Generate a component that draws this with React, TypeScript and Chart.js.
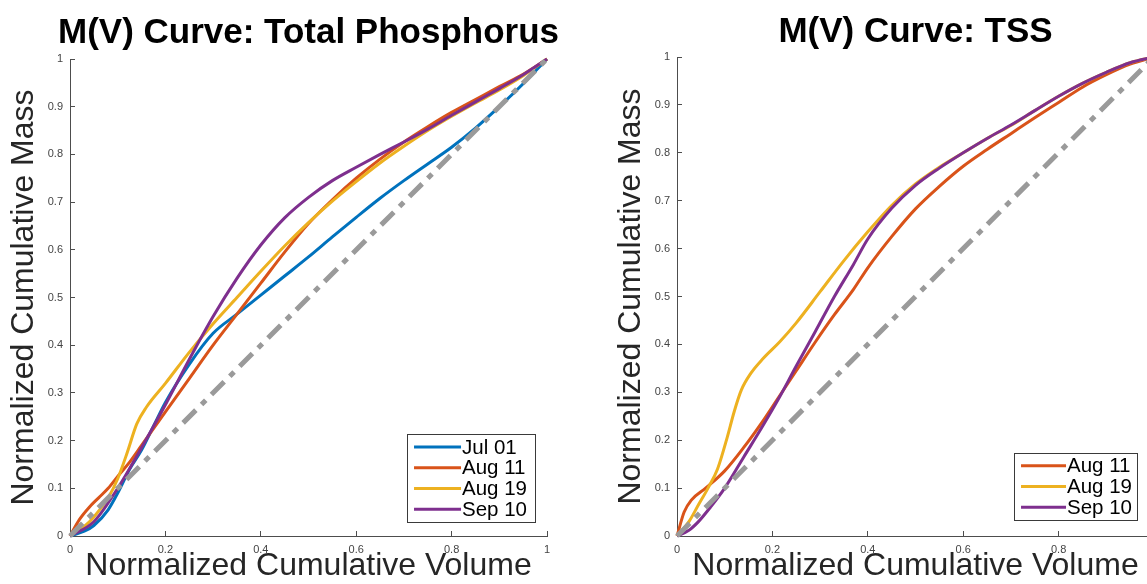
import React, { useEffect, useRef } from 'react';
import { Chart, registerables } from 'chart.js';

Chart.register(...registerables);

// ---------- data ----------
const xTickValues = [0, 0.2, 0.4, 0.6, 0.8, 1];
const xTickLabels = ['0', '0.2', '0.4', '0.6', '0.8', '1'];
const yTickValues = [0, 0.1, 0.2, 0.3, 0.4, 0.5, 0.6, 0.7, 0.8, 0.9, 1];
const yTickLabels = ['0', '0.1', '0.2', '0.3', '0.4', '0.5', '0.6', '0.7', '0.8', '0.9', '1'];

const diagX = [0, 1];
const diagY = [0, 1];

// Total Phosphorus
const tpJul01X = [0, 0.03, 0.05, 0.08, 0.1, 0.125, 0.15, 0.175, 0.2, 0.25, 0.3, 0.35, 0.4, 0.45, 0.5, 0.55, 0.6, 0.65, 0.7, 0.75, 0.8, 0.85, 0.9, 0.95, 1];
const tpJul01Y = [0, 0.01, 0.022, 0.055, 0.09, 0.14, 0.18, 0.23, 0.28, 0.36, 0.425, 0.465, 0.505, 0.545, 0.585, 0.627, 0.668, 0.708, 0.745, 0.78, 0.815, 0.855, 0.9, 0.948, 1];

const tpAug11X = [0, 0.02, 0.04, 0.06, 0.08, 0.1, 0.125, 0.15, 0.2, 0.25, 0.3, 0.35, 0.4, 0.45, 0.5, 0.55, 0.6, 0.65, 0.7, 0.75, 0.8, 0.85, 0.9, 0.95, 1];
const tpAug11Y = [0, 0.035, 0.06, 0.08, 0.1, 0.125, 0.155, 0.19, 0.26, 0.33, 0.4, 0.465, 0.53, 0.595, 0.655, 0.705, 0.75, 0.79, 0.826, 0.858, 0.888, 0.915, 0.942, 0.968, 1];

const tpAug19X = [0, 0.03, 0.05, 0.08, 0.1, 0.12, 0.14, 0.16, 0.2, 0.25, 0.3, 0.35, 0.4, 0.45, 0.5, 0.55, 0.6, 0.65, 0.7, 0.75, 0.8, 0.85, 0.9, 0.95, 1];
const tpAug19Y = [0, 0.02, 0.04, 0.08, 0.12, 0.175, 0.235, 0.27, 0.32, 0.385, 0.445, 0.5, 0.555, 0.608, 0.657, 0.702, 0.743, 0.782, 0.817, 0.85, 0.88, 0.908, 0.935, 0.965, 1];

const tpSep10X = [0, 0.05, 0.1, 0.15, 0.2, 0.25, 0.3, 0.35, 0.4, 0.45, 0.5, 0.55, 0.6, 0.65, 0.7, 0.75, 0.8, 0.85, 0.9, 0.95, 1];
const tpSep10Y = [0, 0.03, 0.1, 0.185, 0.275, 0.37, 0.46, 0.54, 0.61, 0.667, 0.71, 0.745, 0.773, 0.8, 0.826, 0.853, 0.882, 0.91, 0.938, 0.967, 1];

// TSS
const tssAug11X = [0, 0.015, 0.03, 0.06, 0.1, 0.14, 0.18, 0.21, 0.25, 0.29, 0.33, 0.37, 0.4, 0.45, 0.5, 0.55, 0.6, 0.65, 0.7, 0.75, 0.8, 0.85, 0.9, 0.95, 1];
const tssAug11Y = [0, 0.05, 0.075, 0.1, 0.136, 0.185, 0.24, 0.285, 0.345, 0.405, 0.462, 0.515, 0.56, 0.625, 0.683, 0.73, 0.772, 0.807, 0.84, 0.873, 0.905, 0.937, 0.963, 0.985, 1];

const tssAug19X = [0, 0.025, 0.045, 0.065, 0.085, 0.105, 0.12, 0.135, 0.155, 0.18, 0.215, 0.25, 0.3, 0.35, 0.4, 0.45, 0.5, 0.55, 0.6, 0.65, 0.7, 0.75, 0.8, 0.85, 0.9, 0.95, 1];
const tssAug19Y = [0, 0.03, 0.065, 0.1, 0.14, 0.205, 0.26, 0.305, 0.34, 0.37, 0.405, 0.445, 0.51, 0.575, 0.635, 0.69, 0.735, 0.77, 0.8, 0.83, 0.857, 0.888, 0.918, 0.945, 0.968, 0.988, 1];

const tssSep10X = [0, 0.025, 0.045, 0.07, 0.1, 0.14, 0.18, 0.215, 0.25, 0.29, 0.33, 0.37, 0.4, 0.45, 0.5, 0.55, 0.6, 0.65, 0.7, 0.75, 0.8, 0.85, 0.9, 0.95, 1];
const tssSep10Y = [0, 0.012, 0.03, 0.06, 0.1, 0.165, 0.23, 0.29, 0.355, 0.427, 0.5, 0.567, 0.62, 0.684, 0.732, 0.768, 0.8, 0.83, 0.858, 0.888, 0.918, 0.945, 0.968, 0.988, 1];

// ---------- styling ----------
const FONT = '"Liberation Sans", Arial, Helvetica, sans-serif';
const C_BLUE = '#0072BD';
const C_ORANGE = '#D95319';
const C_YELLOW = '#EDB120';
const C_PURPLE = '#7E2F8E';
const C_GRAY = '#9a9a9a';
const AXIS = '#4d4d4d';

const pts = (xs: number[], ys: number[]) => xs.map((x, i) => ({ x, y: ys[i] }));

const centerTitle = {
  id: 'centerTitle',
  afterDraw(chart: any, _args: any, opts: any) {
    if (!opts || !opts.text) return;
    const { ctx, chartArea } = chart;
    ctx.save();
    ctx.font = `bold 35px ${FONT}`;
    ctx.fillStyle = '#000';
    ctx.textAlign = 'center';
    ctx.textBaseline = 'alphabetic';
    ctx.fillText(opts.text, (chartArea.left + chartArea.right) / 2, opts.baseline);
    ctx.restore();
  },
};

const insetLegend = {
  id: 'insetLegend',
  afterDatasetsDraw(chart: any, _args: any, opts: any) {
    if (!opts || !opts.items) return;
    const { ctx, chartArea } = chart;
    const items = opts.items as { label: string; color: string }[];
    const fontSize = opts.fontSize || 20.5;
    ctx.save();
    ctx.font = `${fontSize}px ${FONT}`;
    let maxW = 0;
    items.forEach((it) => (maxW = Math.max(maxW, ctx.measureText(it.label).width)));
    const padL = 7, lineLen = opts.lineLen || 47, gap = 1, padR = opts.padR || 7;
    const rowH = opts.rowH || 20.7;
    const padV = 2.5;
    const w = padL + lineLen + gap + maxW + padR;
    const h = items.length * rowH + padV * 2;
    const right = chartArea.right - opts.marginR;
    const bottom = chartArea.bottom - opts.marginB;
    const left = right - w;
    const top = bottom - h;
    ctx.fillStyle = '#fff';
    ctx.fillRect(left, top, w, h);
    ctx.strokeStyle = '#3a3a3a';
    ctx.lineWidth = 1;
    ctx.strokeRect(Math.round(left) + 0.5, Math.round(top) + 0.5, Math.round(w), Math.round(h));
    items.forEach((it, i) => {
      const cy = top + padV + rowH * (i + 0.5);
      ctx.strokeStyle = it.color;
      ctx.lineWidth = 3;
      ctx.beginPath();
      ctx.moveTo(left + padL, cy);
      ctx.lineTo(left + padL + lineLen, cy);
      ctx.stroke();
      ctx.fillStyle = '#000';
      ctx.textBaseline = 'middle';
      ctx.textAlign = 'left';
      ctx.fillText(it.label, left + padL + lineLen + gap, cy + 1);
    });
    ctx.restore();
  },
};

type Series = { label: string; color: string; xs: number[]; ys: number[] };

function buildConfig(title: string, series: Series[], dims: { top: number; bottom: number; baseline: number }, legend: any) {
  const H = 584;
  const datasets: any[] = [
    {
      label: 'diag',
      data: pts(diagX, diagY),
      borderColor: C_GRAY,
      borderWidth: 5,
      borderDash: [18, 8, 6, 8],
      borderCapStyle: 'butt',
      pointRadius: 0,
      order: 0,
      clip: 8,
    },
  ];
  series.forEach((s, i) => {
    datasets.push({
      label: s.label,
      data: pts(s.xs, s.ys),
      borderColor: s.color,
      borderWidth: 3,
      pointRadius: 0,
      cubicInterpolationMode: 'monotone',
      order: series.length - i,
      clip: 8,
    });
  });
  return {
    type: 'line',
    data: { datasets },
    options: {
      responsive: false,
      animation: false,
      devicePixelRatio: 1,
      layout: { padding: { left: 0, right: 33, top: dims.top, bottom: 0 } },
      plugins: {
        legend: { display: false },
        tooltip: { enabled: false },
        title: { display: false },
        centerTitle: { text: title, baseline: dims.baseline },
        insetLegend: legend,
      },
      scales: {
        x: {
          type: 'linear',
          min: 0,
          max: 1,
          afterBuildTicks: (s: any) => {
            s.ticks = xTickValues.map((v) => ({ value: v }));
          },
          afterFit: (s: any) => {
            s.height = H - dims.bottom;
          },
          ticks: {
            callback: (_v: any, i: number) => xTickLabels[i],
            font: { family: FONT, size: 11 },
            color: '#444',
            padding: 12,
            maxRotation: 0,
            autoSkip: false,
          },
          grid: { drawOnChartArea: false, tickLength: -5, color: AXIS, lineWidth: 1 },
          border: { display: true, color: AXIS, width: 1 },
          title: {
            display: true,
            text: 'Normalized Cumulative Volume',
            color: '#262626',
            font: { family: FONT, size: 32, lineHeight: 1 },
            padding: { top: 0, bottom: 2 },
          },
        },
        y: {
          type: 'linear',
          min: 0,
          max: 1,
          afterBuildTicks: (s: any) => {
            s.ticks = yTickValues.map((v) => ({ value: v }));
          },
          afterFit: (s: any) => {
            s.width = 70;
          },
          ticks: {
            callback: (_v: any, i: number) => yTickLabels[i],
            font: { family: FONT, size: 11 },
            color: '#444',
            padding: 12,
            autoSkip: false,
          },
          grid: { drawOnChartArea: false, tickLength: -5, color: AXIS, lineWidth: 1 },
          border: { display: true, color: AXIS, width: 1 },
          title: {
            display: true,
            text: 'Normalized Cumulative Mass',
            color: '#262626',
            font: { family: FONT, size: 32, lineHeight: 1 },
            padding: { top: 8, bottom: 0 },
          },
        },
      },
    },
    plugins: [insetLegend, centerTitle],
  };
}

export default function App() {
  const leftRef = useRef<HTMLCanvasElement>(null);
  const rightRef = useRef<HTMLCanvasElement>(null);

  useEffect(() => {
    const tpSeries: Series[] = [
      { label: 'Jul 01', color: C_BLUE, xs: tpJul01X, ys: tpJul01Y },
      { label: 'Aug 11', color: C_ORANGE, xs: tpAug11X, ys: tpAug11Y },
      { label: 'Aug 19', color: C_YELLOW, xs: tpAug19X, ys: tpAug19Y },
      { label: 'Sep 10', color: C_PURPLE, xs: tpSep10X, ys: tpSep10Y },
    ];
    const tssSeries: Series[] = [
      { label: 'Aug 11', color: C_ORANGE, xs: tssAug11X, ys: tssAug11Y },
      { label: 'Aug 19', color: C_YELLOW, xs: tssAug19X, ys: tssAug19Y },
      { label: 'Sep 10', color: C_PURPLE, xs: tssSep10X, ys: tssSep10Y },
    ];
    const c1 = new Chart(
      leftRef.current as HTMLCanvasElement,
      buildConfig('M(V) Curve: Total Phosphorus', tpSeries, { top: 59, bottom: 536, baseline: 43 }, {
        items: tpSeries.map((s) => ({ label: s.label, color: s.color })),
        marginR: 12,
        marginB: 14,
        lineLen: 47,
        padR: 8,
      }) as any
    );
    const c2 = new Chart(
      rightRef.current as HTMLCanvasElement,
      buildConfig('M(V) Curve: TSS', tssSeries, { top: 57, bottom: 536, baseline: 41.5 }, {
        items: tssSeries.map((s) => ({ label: s.label, color: s.color })),
        marginR: 17,
        marginB: 16,
        lineLen: 45,
        padR: 5,
      }) as any
    );
    return () => {
      c1.destroy();
      c2.destroy();
    };
  }, []);

  return (
    <div
      style={{
        position: 'absolute',
        left: 0,
        top: 0,
        width: 1147,
        height: 584,
        overflow: 'hidden',
        background: '#fff',
      }}
    >
      <canvas ref={leftRef} width={580} height={584} style={{ position: 'absolute', left: 0, top: 0 }} />
      <canvas ref={rightRef} width={580} height={584} style={{ position: 'absolute', left: 607, top: 0 }} />
    </div>
  );
}
